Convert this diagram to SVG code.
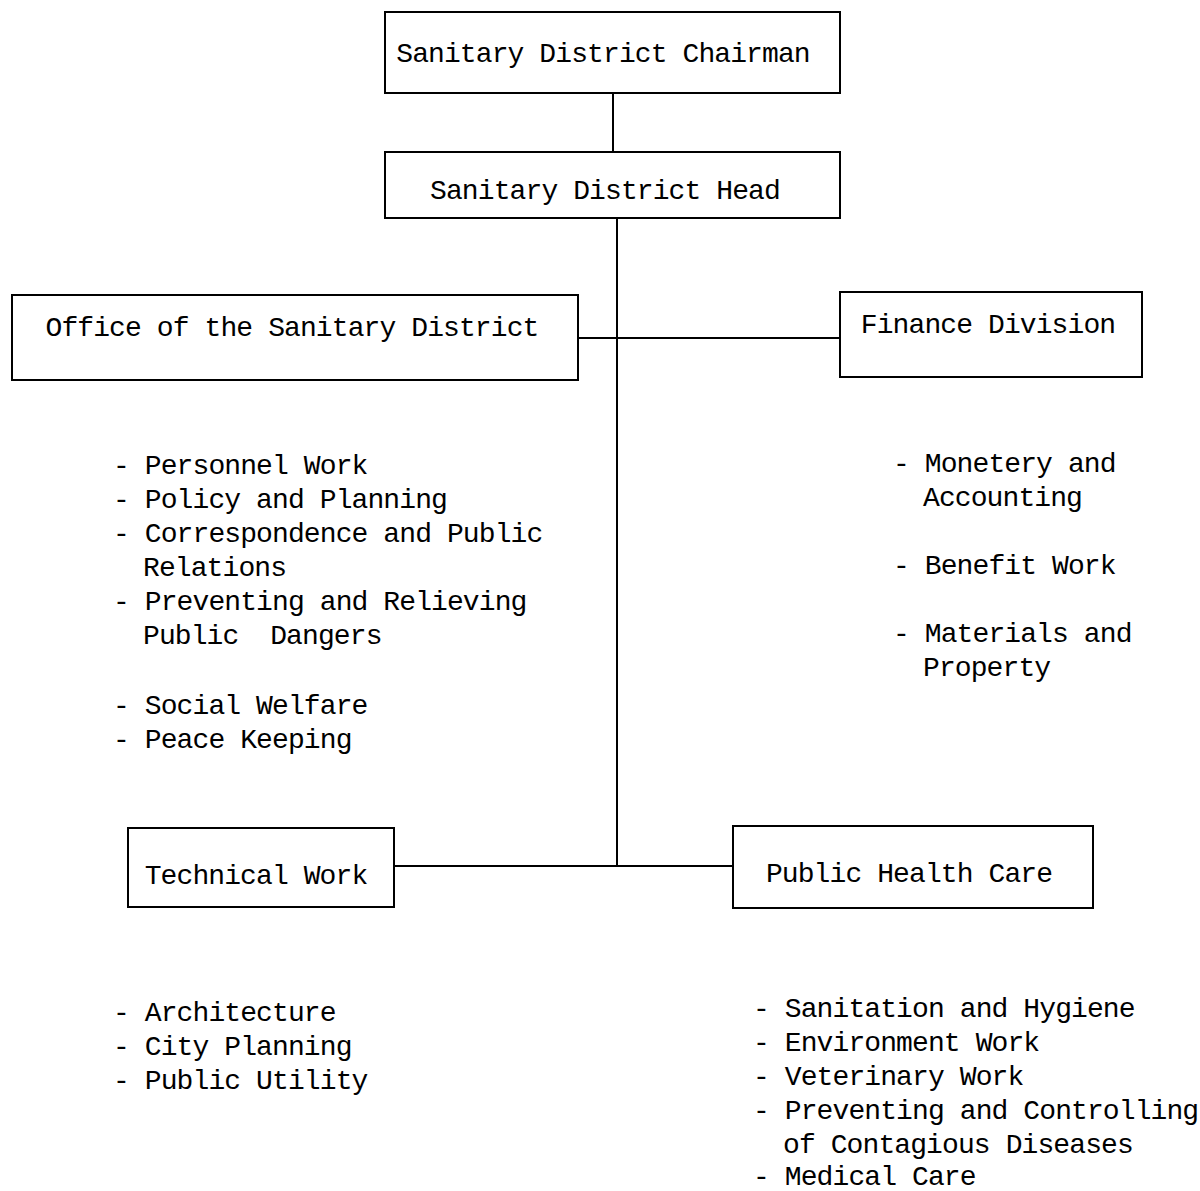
<svg xmlns="http://www.w3.org/2000/svg" width="1200" height="1191" viewBox="0 0 1200 1191">
<style>
.box{fill:#fff;stroke:#000;stroke-width:2}
.ln{stroke:#000;stroke-width:2;fill:none}
text{font-family:"Liberation Mono","DejaVu Sans Mono",monospace;font-size:28px;letter-spacing:-0.9px;fill:#000;white-space:pre}
.c{text-anchor:middle}
</style>
<rect width="1200" height="1191" fill="#fff"/>
<g id="connectors">
<line class="ln" x1="613" y1="93" x2="613" y2="152"/>
<line class="ln" x1="617" y1="218" x2="617" y2="865"/>
<line class="ln" x1="578" y1="338" x2="840" y2="338"/>
<line class="ln" x1="394" y1="866" x2="733" y2="866"/>
</g>
<g id="chairman">
<rect class="box" x="385" y="12" width="455" height="81"/>
<text class="c" x="603" y="62">Sanitary District Chairman</text>
</g>
<g id="head">
<rect class="box" x="385" y="152" width="455" height="66"/>
<text class="c" x="605" y="199">Sanitary District Head</text>
</g>
<g id="office">
<rect class="box" x="12" y="295" width="566" height="85"/>
<text class="c" x="292" y="336">Office of the Sanitary District</text>
</g>
<g id="finance">
<rect class="box" x="840" y="292" width="302" height="85"/>
<text class="c" x="988" y="333">Finance Division</text>
</g>
<g id="technical">
<rect class="box" x="128" y="828" width="266" height="79"/>
<text class="c" x="256" y="884">Technical Work</text>
</g>
<g id="publichealth">
<rect class="box" x="733" y="826" width="360" height="82"/>
<text class="c" x="909" y="882">Public Health Care</text>
</g>
<g id="office-list">
<text x="113" y="474">- Personnel Work</text>
<text x="113" y="508">- Policy and Planning</text>
<text x="113" y="542">- Correspondence and Public</text>
<text x="143" y="576">Relations</text>
<text x="113" y="610">- Preventing and Relieving</text>
<text x="143" y="644">Public  Dangers</text>
<text x="113" y="714">- Social Welfare</text>
<text x="113" y="748">- Peace Keeping</text>
</g>
<g id="finance-list">
<text x="893" y="472">- Monetery and</text>
<text x="923" y="506">Accounting</text>
<text x="893" y="574">- Benefit Work</text>
<text x="893" y="642">- Materials and</text>
<text x="923" y="676">Property</text>
</g>
<g id="technical-list">
<text x="113" y="1021">- Architecture</text>
<text x="113" y="1055">- City Planning</text>
<text x="113" y="1089">- Public Utility</text>
</g>
<g id="publichealth-list">
<text x="753" y="1017">- Sanitation and Hygiene</text>
<text x="753" y="1051">- Environment Work</text>
<text x="753" y="1085">- Veterinary Work</text>
<text x="753" y="1119">- Preventing and Controlling</text>
<text x="783" y="1153">of Contagious Diseases</text>
<text x="753" y="1185">- Medical Care</text>
</g>
</svg>
